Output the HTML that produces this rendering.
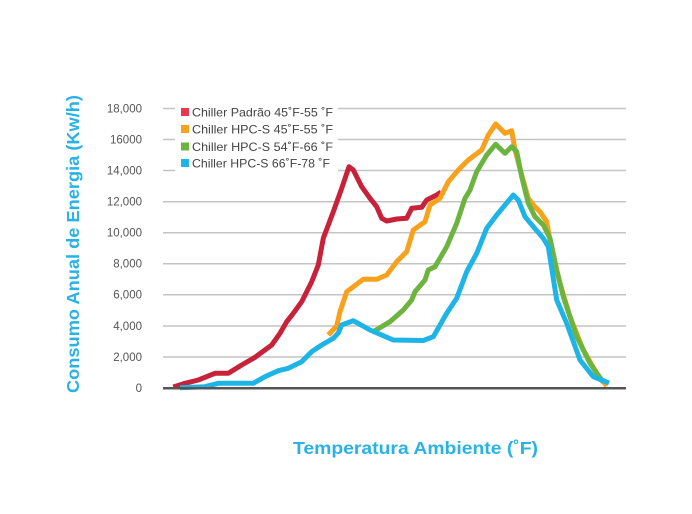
<!DOCTYPE html>
<html><head><meta charset="utf-8"><style>
html,body{margin:0;padding:0;background:#fff;}
svg{display:block;}
</style></head><body>
<svg width="692" height="514" viewBox="0 0 692 514" xmlns="http://www.w3.org/2000/svg">
<rect width="692" height="514" fill="#fff"/>
<g stroke="#c4c4c4" stroke-width="1.5">
<line x1="163" y1="108.5" x2="626" y2="108.5"/>
<line x1="163" y1="139.5" x2="626" y2="139.5"/>
<line x1="163" y1="170.5" x2="626" y2="170.5"/>
<line x1="163" y1="201.7" x2="626" y2="201.7"/>
<line x1="163" y1="232.7" x2="626" y2="232.7"/>
<line x1="163" y1="263.7" x2="626" y2="263.7"/>
<line x1="163" y1="294.7" x2="626" y2="294.7"/>
<line x1="163" y1="326" x2="626" y2="326"/>
<line x1="163" y1="357" x2="626" y2="357"/>
</g>
<g font-family="Liberation Sans, sans-serif" font-size="11.5" fill="#555" text-anchor="end">
<text x="142" y="112.5">18,000</text>
<text x="142" y="143.5">16000</text>
<text x="142" y="174.5">14,000</text>
<text x="142" y="205.7">12,000</text>
<text x="142" y="236.7">10,000</text>
<text x="142" y="267.7">8,000</text>
<text x="142" y="298.7">6,000</text>
<text x="142" y="330">4,000</text>
<text x="142" y="361">2,000</text>
<text x="142" y="392">0</text>
</g>
<rect x="175" y="102" width="163" height="71" fill="#fff"/>
<g fill="none" stroke-width="5" stroke-linejoin="round" stroke-linecap="butt">
<polyline stroke="#c8213a" points="173.3,387 185,383.3 198.3,380 215,373.3 228.3,373.3 241.7,365 255,357.3 271.7,345 280,333.3 286.7,321.7 293.3,313.3 301.7,301.7 311.7,281.7 318.3,265 323.3,238.3 333.3,211.7 341.7,188.3 349,166.7 353.3,170 361.7,186.7 370,198.3 376.7,206.7 381.7,218.3 386.7,221 396.7,219 406.7,218.3 411.7,208.3 421.7,207.3 426.7,200 436.7,195 441,192"/>
<polyline stroke="#f7a11c" points="328.3,335 336.7,326 340,311.7 346.7,291.7 363.3,279.3 376.7,279.3 386.7,275 396.7,261.7 406.7,251.7 413.3,230 425,221.7 430,205 440,198.3 448.3,181.7 458.3,170 468.3,160 481.7,150 488.3,135 495.7,124 505,133.3 511.7,130.7 515,150 521.7,175 528.3,198.3 533.3,205 540,211.7 546.7,221.7 551.7,250 560,283.3 570,316.7 583.3,350 596.7,373.3 606.7,386"/>
<polyline stroke="#6db33f" points="373.3,331.7 390,321.7 403.3,310 411.7,300 415,291.7 425,280 428.3,270 435,266.7 446.7,246.7 456.7,223.3 465,198.3 470,190 476.7,171.7 486.7,155 495.7,144.3 505,153.3 511.7,146.7 516.7,151.7 521.7,176.7 528.3,203.3 535,216.7 543.3,225 550,238.3 556.7,270 563.3,296.7 576.7,336.7 590,363.3 603.3,382.5"/>
<polyline stroke="#1fb4e6" points="180,387.7 205,386.7 218.3,383.3 253.3,383.3 265,376.7 278.3,370.7 288.3,368.3 301.7,361.7 311.7,351.7 321.7,345 333.3,338.3 338.3,333 341.7,325 353.3,320.7 370,330 393.3,340 423.3,340.5 433.3,336.7 446.7,313.3 456.7,298.3 466.7,271.7 476.7,253.3 486.7,228.3 496.7,215 505,205 513.3,195 518.3,200 525,216.7 533.3,226.7 543.3,238.3 548.3,246.7 556.7,300 566.7,323.3 580,360 593.3,376.7 609,383"/>
</g>
<line x1="163" y1="388.3" x2="626" y2="388.3" stroke="#555" stroke-width="2.5"/>
<g>
<rect x="181" y="108" width="8" height="8" fill="#e8384f"/>
<rect x="181" y="125" width="8" height="8" fill="#f7a11c"/>
<rect x="181" y="142.5" width="8" height="8" fill="#6db33f"/>
<rect x="181" y="159" width="8" height="8" fill="#1fb4e6"/>
</g>
<g font-family="Liberation Sans, sans-serif" font-size="12" fill="#444">
<text x="192" y="116.5" textLength="141" lengthAdjust="spacingAndGlyphs">Chiller Padrão 45˚F-55 ˚F</text>
<text x="192" y="133.5" textLength="141" lengthAdjust="spacingAndGlyphs">Chiller HPC-S 45˚F-55 ˚F</text>
<text x="192" y="151" textLength="141" lengthAdjust="spacingAndGlyphs">Chiller HPC-S 54˚F-66 ˚F</text>
<text x="192" y="167.5" textLength="138" lengthAdjust="spacingAndGlyphs">Chiller HPC-S 66˚F-78 ˚F</text>
</g>
<text x="415.5" y="454" font-family="Liberation Sans, sans-serif" font-weight="bold" font-size="17.5" fill="#29b2e6" text-anchor="middle" textLength="245" lengthAdjust="spacingAndGlyphs">Temperatura Ambiente (˚F)</text>
<text transform="translate(79,244) rotate(-90)" x="0" y="0" font-family="Liberation Sans, sans-serif" font-weight="bold" font-size="17.5" fill="#29b2e6" text-anchor="middle" textLength="298" lengthAdjust="spacingAndGlyphs">Consumo Anual de Energia (Kw/h)</text>
</svg>
</body></html>
